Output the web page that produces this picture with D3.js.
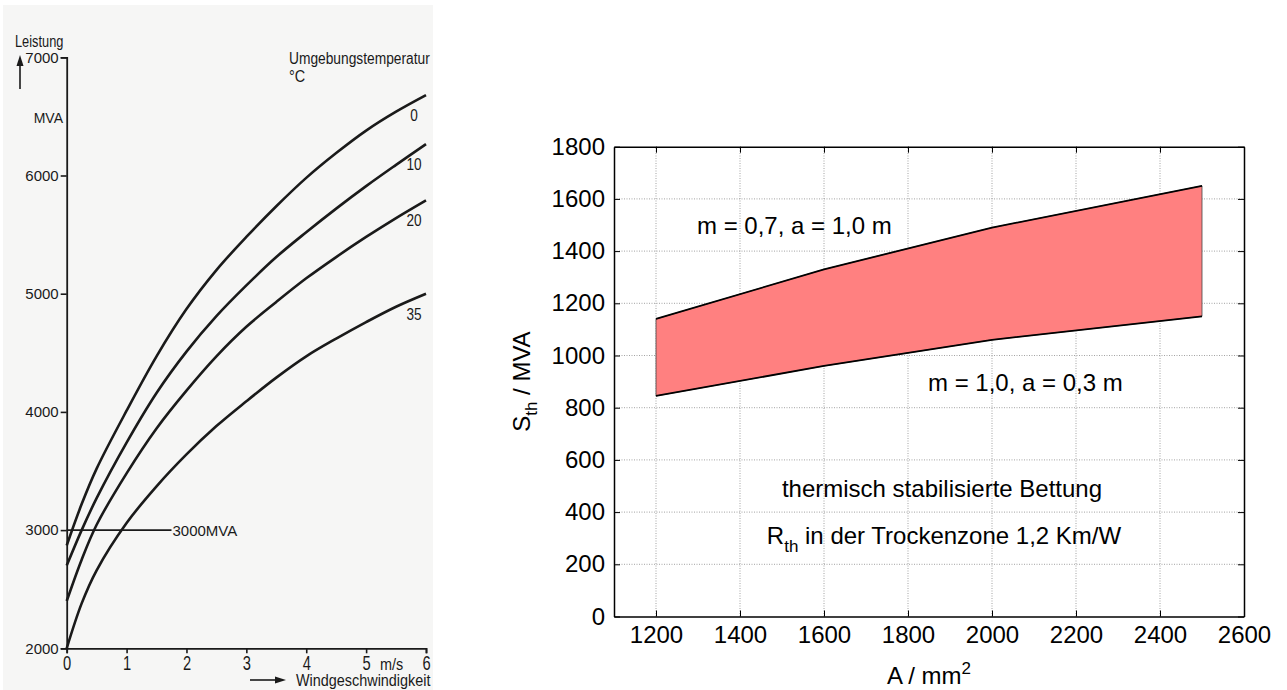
<!DOCTYPE html>
<html lang="en">
<head>
<meta charset="UTF-8">
<title>Leistung / thermische Grenzleistung</title>
<style>
    body { margin: 0; padding: 0; overflow: hidden; background: #fff; }
    svg { display: block; }
    text { font-family: "Liberation Sans", Arial, sans-serif; }
</style>
</head>
<body>
<script src="https://d3js.org/d3.v7.min.js"></script>
<script>
    // ---- left panel data: Leistung over Windgeschwindigkeit ----
    const windSpeed = [0, 0.25, 0.5, 1, 1.5, 2, 2.5, 3, 3.5, 4, 4.5, 5, 5.5, 6];
    const temps = ["0", "10", "20", "35"];
    const power0 = [2870, 3220, 3520, 4010, 4470, 4870, 5200, 5480, 5740, 5980, 6190, 6380, 6540, 6680];
    const power10 = [2700, 3000, 3270, 3740, 4160, 4510, 4810, 5070, 5310, 5520, 5720, 5910, 6090, 6266];
    const power20 = [2400, 2750, 3045, 3480, 3860, 4180, 4470, 4720, 4930, 5130, 5310, 5480, 5640, 5790];
    const power35 = [2000, 2380, 2660, 3060, 3370, 3640, 3880, 4090, 4290, 4470, 4620, 4760, 4890, 5000];
    const leftYTicks = [2000, 3000, 4000, 5000, 6000, 7000];
    const leftXTicks = [0, 1, 2, 3, 4, 5, 6];
    const refPower = 3000;

    // ---- right panel data: S_th over conductor cross-section ----
    const area = [1200, 1600, 2000, 2500];
    const upperSth = [1140, 1330, 1490, 1650];   // m = 0,7, a = 1,0 m
    const lowerSth = [845, 960, 1060, 1150];     // m = 1,0, a = 0,3 m
    const rightXTicks = [1200, 1400, 1600, 1800, 2000, 2200, 2400, 2600];
    const rightYTicks = [0, 200, 400, 600, 800, 1000, 1200, 1400, 1600, 1800];

    const width = 1287, height = 690;
    const svg = d3.select("body").append("svg")
        .attr("width", width)
        .attr("height", height);

    // squeeze a text horizontally, the scanned figure uses a narrow typeface
    const condense = (sel, f) => sel.each(function () {
        const w = this.getComputedTextLength();
        d3.select(this).attr("textLength", w * f).attr("lengthAdjust", "spacingAndGlyphs");
    });

    // ================= left panel (scanned book figure) =================
    svg.append("rect")
        .attr("x", 3).attr("y", 5)
        .attr("width", 430).attr("height", 685)
        .attr("fill", "#f6f6f5");

    const xL = d3.scaleLinear().domain([0, 6]).range([66.7, 426]);
    const yL = d3.scaleLinear().domain([2000, 7000]).range([648.3, 57.3]);
    const ink = "#1a1a1a";

    const left = svg.append("g");

    const yAxisL = left.append("g")
        .attr("transform", `translate(${xL(0)},0)`)
        .call(d3.axisLeft(yL).tickValues(leftYTicks).tickSize(6).tickPadding(2).tickFormat(d3.format("d")));
    const xAxisL = left.append("g")
        .attr("transform", `translate(0,${yL(2000)})`)
        .call(d3.axisBottom(xL).tickValues(leftXTicks).tickSize(5).tickPadding(2).tickFormat(d3.format("d")));

    [yAxisL, xAxisL].forEach(ax => {
        ax.select(".domain").attr("stroke", ink).attr("stroke-width", 1.8);
        ax.selectAll(".tick line").attr("stroke", ink).attr("stroke-width", 1.6);
        ax.selectAll(".tick text").attr("fill", ink).attr("font-size", 15);
    });
    xAxisL.selectAll(".tick text").attr("font-size", 21).call(condense, 0.7);

    const series = [power0, power10, power20, power35];
    const lineL = d3.line()
        .x((d, i) => xL(windSpeed[i]))
        .y(d => yL(d))
        .curve(d3.curveCatmullRom.alpha(0.5));

    left.selectAll("path.curve")
        .data(series)
        .enter().append("path")
        .attr("class", "curve")
        .attr("d", lineL)
        .attr("fill", "none")
        .attr("stroke", ink)
        .attr("stroke-width", 2.6);

    left.selectAll("text.temp")
        .data(series)
        .enter().append("text")
        .attr("class", "temp")
        .attr("x", d => xL(6) - 12)
        .attr("y", d => yL(d[d.length - 1]) + 26)
        .attr("text-anchor", "middle")
        .attr("font-size", 17)
        .attr("fill", ink)
        .text((d, i) => temps[i])
        .call(condense, 0.8);

    // 3000 MVA reference line
    left.append("line")
        .attr("x1", xL(0)).attr("x2", xL(1.75))
        .attr("y1", yL(refPower)).attr("y2", yL(refPower))
        .attr("stroke", ink).attr("stroke-width", 1.6);
    left.append("text")
        .attr("x", xL(1.75) + 1).attr("y", yL(refPower) + 5.5)
        .attr("font-size", 15).attr("fill", ink)
        .text("3000MVA");

    // axis titles
    left.append("text").attr("x", 15).attr("y", 47)
        .attr("font-size", 16).attr("fill", ink).text("Leistung").call(condense, 0.8);
    left.append("line")
        .attr("x1", 20).attr("x2", 20).attr("y1", 89).attr("y2", 64)
        .attr("stroke", ink).attr("stroke-width", 1.6);
    left.append("path")
        .attr("d", "M20,55 L16.5,66 L23.5,66 Z").attr("fill", ink);
    left.append("text").attr("x", 63).attr("y", 123)
        .attr("text-anchor", "end")
        .attr("font-size", 14).attr("fill", ink).text("MVA");
    left.append("text").attr("x", 289).attr("y", 64)
        .attr("font-size", 16).attr("fill", ink).text("Umgebungstemperatur").call(condense, 0.86);
    left.append("text").attr("x", 289).attr("y", 82)
        .attr("font-size", 16).attr("fill", ink).text("°C").call(condense, 0.9);
    left.append("text").attr("x", 380).attr("y", 670)
        .attr("font-size", 16).attr("fill", ink).text("m/s").call(condense, 0.9);
    left.append("line")
        .attr("x1", 250).attr("x2", 276).attr("y1", 680).attr("y2", 680)
        .attr("stroke", ink).attr("stroke-width", 1.6);
    left.append("path")
        .attr("d", "M286,680 L275,676.5 L275,683.5 Z").attr("fill", ink);
    left.append("text").attr("x", 296).attr("y", 686)
        .attr("font-size", 16).attr("fill", ink).text("Windgeschwindigkeit").call(condense, 0.9);

    // ================= right panel (MATLAB style plot) =================
    const xR = d3.scaleLinear().domain([1100, 2600]).range([614, 1244]);
    const yR = d3.scaleLinear().domain([0, 1800]).range([616.5, 146.7]);
    const right = svg.append("g");
    const fs = 24;

    // grid
    right.append("g").selectAll("line")
        .data(rightXTicks.filter(d => d < 2600))
        .enter().append("line")
        .attr("x1", d => xR(d)).attr("x2", d => xR(d))
        .attr("y1", yR(0)).attr("y2", yR(1800))
        .attr("stroke", "#8c8c8c").attr("stroke-width", 0.8)
        .attr("stroke-dasharray", "1,1.5");
    right.append("g").selectAll("line")
        .data(rightYTicks.filter(d => d > 0 && d < 1800))
        .enter().append("line")
        .attr("x1", xR(1100)).attr("x2", xR(2600))
        .attr("y1", d => yR(d)).attr("y2", d => yR(d))
        .attr("stroke", "#8c8c8c").attr("stroke-width", 0.8)
        .attr("stroke-dasharray", "1,1.5");

    // band between the two cases
    const band = area.map((a, i) => ({ a: a, lo: lowerSth[i], hi: upperSth[i] }));
    right.append("path")
        .datum(band)
        .attr("d", d3.area().x(d => xR(d.a)).y0(d => yR(d.lo)).y1(d => yR(d.hi)))
        .attr("fill", "#ff8080")
        .attr("stroke", "#444")
        .attr("stroke-width", 0.8);
    const lineR = d3.line().x((d, i) => xR(area[i])).y(d => yR(d));
    [upperSth, lowerSth].forEach(s => {
        right.append("path")
            .attr("d", lineR(s))
            .attr("fill", "none")
            .attr("stroke", "#000")
            .attr("stroke-width", 1.8);
    });

    // axes with inward ticks, box on all sides
    const fmt = d3.format("d");
    const axB = right.append("g").attr("transform", `translate(0,${yR(0)})`)
        .call(d3.axisBottom(xR).tickValues(rightXTicks).tickSizeInner(-6).tickSizeOuter(0).tickPadding(9).tickFormat(fmt));
    const axT = right.append("g").attr("transform", `translate(0,${yR(1800)})`)
        .call(d3.axisTop(xR).tickValues(rightXTicks).tickSizeInner(-6).tickSizeOuter(0).tickFormat(""));
    const axL = right.append("g").attr("transform", `translate(${xR(1100)},0)`)
        .call(d3.axisLeft(yR).tickValues(rightYTicks).tickSizeInner(-6).tickSizeOuter(0).tickPadding(9).tickFormat(fmt));
    const axRt = right.append("g").attr("transform", `translate(${xR(2600)},0)`)
        .call(d3.axisRight(yR).tickValues(rightYTicks).tickSizeInner(-6).tickSizeOuter(0).tickFormat(""));
    [axB, axT, axL, axRt].forEach(ax => {
        ax.select(".domain").attr("stroke", "#000").attr("stroke-width", 1.5);
        ax.selectAll(".tick line").attr("stroke", "#000").attr("stroke-width", 1);
        ax.selectAll(".tick text").attr("fill", "#000").attr("font-size", fs);
    });

    // axis labels
    const yLab = right.append("text")
        .attr("transform", `translate(${530},${yR(900)}) rotate(-90)`)
        .attr("text-anchor", "middle")
        .attr("font-size", fs);
    yLab.append("tspan").text("S");
    yLab.append("tspan").attr("font-size", 17).attr("dy", 7).text("th");
    yLab.append("tspan").attr("dy", -7).text(" / MVA");

    const xLab = right.append("text")
        .attr("x", xR(1850)).attr("y", 684)
        .attr("text-anchor", "middle")
        .attr("font-size", fs);
    xLab.append("tspan").text("A / mm");
    xLab.append("tspan").attr("font-size", 17).attr("dy", -10).text("2");

    // annotations
    right.append("text").attr("x", 697).attr("y", 234)
        .attr("font-size", fs).text("m = 0,7, a = 1,0 m");
    right.append("text").attr("x", 928).attr("y", 391)
        .attr("font-size", fs).text("m = 1,0, a = 0,3 m");
    right.append("text").attr("x", 942).attr("y", 497)
        .attr("text-anchor", "middle").attr("font-size", fs)
        .text("thermisch stabilisierte Bettung");
    const rth = right.append("text").attr("x", 944).attr("y", 544)
        .attr("text-anchor", "middle").attr("font-size", fs);
    rth.append("tspan").text("R");
    rth.append("tspan").attr("font-size", 17).attr("dy", 8).text("th");
    rth.append("tspan").attr("dy", -8).text(" in der Trockenzone 1,2 Km/W");
</script>
</body>
</html>
